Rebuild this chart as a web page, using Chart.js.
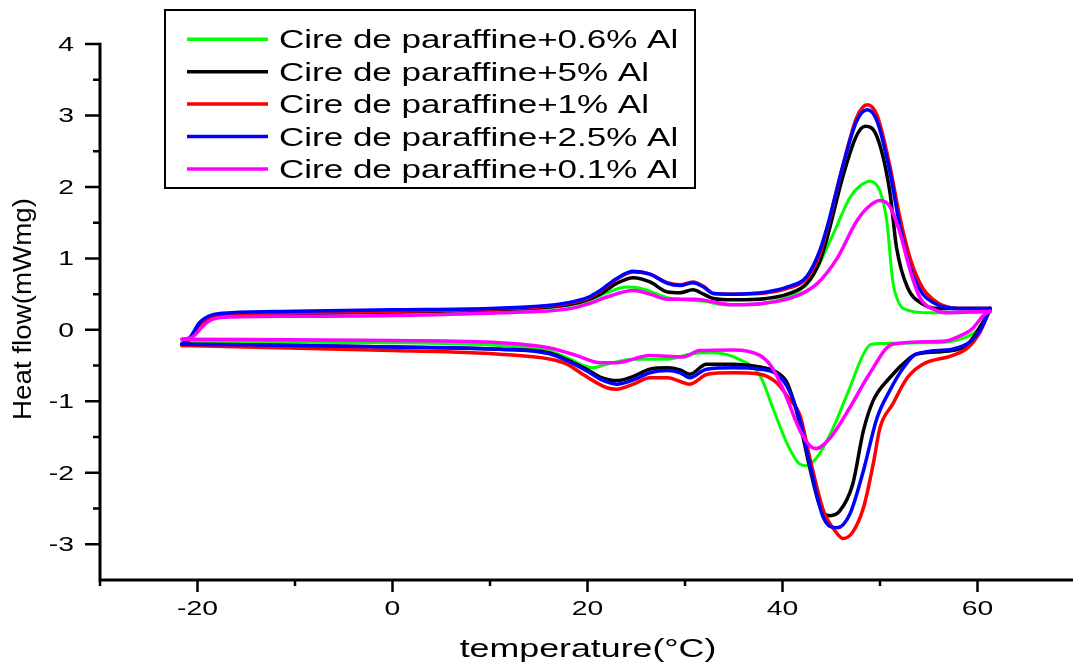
<!DOCTYPE html>
<html>
<head>
<meta charset="utf-8">
<script src="https://cdn.jsdelivr.net/npm/chart.js@4.4.1/dist/chart.umd.min.js"></script>
<style>
  html, body { margin: 0; padding: 0; background: #fff; overflow: hidden; }
  canvas { display: block; }
</style>
</head>
<body>
<canvas id="dsc" width="1078" height="663"></canvas>
<script>
// Legend / series info
const seriesLabels = [
    'Cire de paraffine+0.6% Al',
    'Cire de paraffine+5% Al',
    'Cire de paraffine+1% Al',
    'Cire de paraffine+2.5% Al',
    'Cire de paraffine+0.1% Al'
];
const seriesColors = ['#00ff00', '#000000', '#ff0000', '#0000ff', '#ff00ff'];

// Axis ticks
const xTicks = [-20, 0, 20, 40, 60];
const xMinorTicks = [-30, -10, 10, 30, 50, 70];
const yTicks = [-3, -2, -1, 0, 1, 2, 3, 4];
const yMinorTicks = [-2.5, -1.5, -0.5, 0.5, 1.5, 2.5, 3.5];

// [temperature, heat flow]; heating branch (upper) and cooling branch (lower)
const greenHeat = [[-21.6,-0.17],[-20.8,-0.1],[-19.8,0.08],[-18.5,0.18],[-16.5,0.21],[-10,0.23],[0,0.25],[10,0.27],[15,0.3],[18,0.34],[20,0.4],[22,0.52],[24,0.6],[25.5,0.58],[28.2,0.45],[30,0.42],[32,0.4],[33.5,0.36],[35,0.35],[38.4,0.38],[40.5,0.46],[42.8,0.69],[45.2,1.34],[46.9,1.85],[48,2.02],[49,2.08],[50,1.94],[50.7,1.52],[51.3,0.69],[52,0.36],[53,0.27],[55,0.24],[61.3,0.25]];
const greenCool = [[-21.6,-0.17],[0,-0.18],[11,-0.22],[16,-0.29],[17.9,-0.39],[20.5,-0.53],[22,-0.48],[24.7,-0.41],[28.2,-0.41],[30.5,-0.34],[33,-0.32],[35.5,-0.41],[37.7,-0.64],[39,-1.09],[40.5,-1.6],[41.8,-1.88],[42.5,-1.9],[43.5,-1.79],[44.9,-1.46],[46.9,-0.81],[48.3,-0.34],[49.1,-0.2],[56,-0.18],[58.5,-0.12],[60,0.0],[61.3,0.25]];

const blackHeat = [[-21.6,-0.2],[-20.8,-0.13],[-19.8,0.07],[-18.5,0.18],[-16.5,0.21],[-10,0.23],[0,0.25],[10,0.28],[15,0.31],[18,0.35],[20,0.42],[21.3,0.5],[23,0.65],[24.7,0.73],[26.4,0.67],[28.2,0.53],[29.5,0.52],[30.8,0.56],[31.9,0.5],[32.9,0.44],[35,0.42],[38.4,0.44],[40.5,0.5],[42.5,0.65],[43.8,0.95],[44.6,1.3],[46.2,2.15],[47.6,2.72],[48.5,2.85],[49.7,2.7],[51,1.94],[51.7,1.15],[52.8,0.6],[54.4,0.36],[56,0.3],[61.3,0.3]];
const blackCool = [[-21.6,-0.2],[-15,-0.21],[0,-0.24],[11,-0.27],[16,-0.32],[17.9,-0.42],[20,-0.56],[21.3,-0.66],[23,-0.71],[24.7,-0.65],[26.4,-0.55],[28.2,-0.53],[29.5,-0.56],[30.5,-0.62],[32.2,-0.48],[35,-0.48],[37.7,-0.52],[39.5,-0.6],[40.5,-0.75],[41.8,-1.32],[42.8,-1.93],[43.9,-2.49],[44.9,-2.6],[45.9,-2.53],[47.2,-2.16],[48.3,-1.41],[49.3,-0.99],[51,-0.67],[53.1,-0.39],[53.7,-0.34],[57.4,-0.29],[59,-0.2],[60.3,0.05],[61.3,0.3]];

const redHeat = [[-21.6,-0.22],[-20.8,-0.13],[-19.8,0.08],[-18.5,0.19],[-16.5,0.22],[-10,0.24],[0,0.26],[10,0.29],[15,0.32],[18,0.37],[20,0.44],[21.3,0.54],[23,0.71],[24.7,0.81],[26.4,0.78],[28.2,0.66],[29.5,0.63],[30.8,0.67],[31.9,0.61],[32.9,0.51],[35,0.5],[38.4,0.52],[40.5,0.58],[42.5,0.72],[43.8,1.05],[44.6,1.42],[46.2,2.3],[47.6,2.97],[48.7,3.15],[49.7,3.0],[51,2.3],[52,1.6],[53.1,1.0],[54.4,0.58],[55.5,0.42],[56.5,0.34],[58,0.3],[61.3,0.3]];
const redCool = [[-21.6,-0.22],[-15,-0.24],[0,-0.29],[11,-0.34],[16.2,-0.41],[17.9,-0.48],[19.5,-0.62],[22,-0.81],[23,-0.83],[24.7,-0.76],[26.4,-0.67],[28.2,-0.67],[30.5,-0.76],[32.3,-0.62],[34.9,-0.6],[37.7,-0.62],[39.4,-0.74],[40.6,-0.95],[41.8,-1.2],[42.8,-1.79],[44.2,-2.53],[45.6,-2.85],[46.2,-2.92],[47.2,-2.83],[48.3,-2.49],[49.3,-1.88],[50,-1.37],[51.3,-1.04],[52.8,-0.67],[54.4,-0.48],[57.4,-0.36],[59,-0.25],[60.3,-0.02],[61.3,0.3]];

const blueHeat = [[-21.6,-0.2],[-20.8,-0.12],[-19.8,0.1],[-18.5,0.21],[-16.5,0.24],[-10,0.26],[0,0.28],[10,0.3],[15,0.33],[18,0.38],[20,0.45],[21.3,0.55],[23,0.72],[24.7,0.82],[26.4,0.78],[28.2,0.65],[29.5,0.62],[30.8,0.66],[31.9,0.6],[32.9,0.51],[35,0.5],[38.4,0.53],[40.5,0.6],[42.5,0.75],[43.8,1.1],[44.6,1.45],[46.2,2.3],[47.6,2.92],[48.7,3.08],[49.7,2.92],[51,2.22],[52,1.48],[53.1,0.87],[54.4,0.5],[55.5,0.38],[56.5,0.32],[58,0.3],[61.3,0.3]];
const blueCool = [[-21.6,-0.2],[-15,-0.21],[0,-0.24],[11,-0.27],[16,-0.33],[17.9,-0.43],[20,-0.58],[21.3,-0.69],[23,-0.76],[24.7,-0.7],[26.4,-0.6],[28.2,-0.57],[29.5,-0.6],[30.5,-0.67],[32.2,-0.55],[35,-0.53],[37.7,-0.55],[39.4,-0.62],[40.5,-0.8],[41.8,-1.27],[42.8,-1.88],[44.2,-2.63],[45.6,-2.77],[46.9,-2.58],[48.3,-1.97],[49.7,-1.23],[51,-0.85],[52.4,-0.53],[53.7,-0.34],[57.4,-0.27],[59.4,-0.15],[60.5,0.05],[61.3,0.3]];

const magentaHeat = [[-21.6,-0.13],[-20.5,-0.1],[-19.4,0.06],[-18.4,0.15],[-16.4,0.18],[-10,0.19],[0,0.2],[11,0.24],[17.9,0.29],[20,0.36],[22,0.46],[24.7,0.55],[26.4,0.5],[28.2,0.43],[31,0.43],[34.9,0.35],[38,0.37],[41,0.45],[43.5,0.64],[45.6,1.0],[47.6,1.52],[48.8,1.72],[50,1.81],[51,1.73],[52,1.38],[53.1,0.83],[54.1,0.45],[55.8,0.27],[57,0.24],[61.3,0.26]];
const magentaCool = [[-21.6,-0.13],[0,-0.15],[11,-0.18],[16,-0.25],[18.9,-0.36],[21.3,-0.46],[23,-0.46],[26.4,-0.36],[29.8,-0.38],[31.5,-0.29],[35,-0.28],[37.7,-0.36],[38.8,-0.5],[40,-0.81],[41.8,-1.41],[42.8,-1.62],[43.5,-1.66],[44.9,-1.51],[46.9,-1.09],[48.9,-0.62],[51.3,-0.2],[56.5,-0.16],[58.6,-0.06],[59.5,0.02],[60.6,0.2],[61.3,0.26]];

const seriesBranches = [
    [greenHeat, greenCool],
    [blackHeat, blackCool],
    [redHeat, redCool],
    [blueHeat, blueCool],
    [magentaHeat, magentaCool]
];
const seriesWidths = [3, 3.5, 3.5, 3.5, 3.5];
const drawOrder = [4, 3, 2, 1, 0]; // magenta on top, green underneath

const fontFamily = '"Liberation Sans", Arial, Helvetica, sans-serif';

// Origin-style text is stretched horizontally in the figure
function stretchedText(ctx, text, x, y, size, sx, align) {
    ctx.save();
    ctx.font = size + 'px ' + fontFamily;
    ctx.textAlign = align;
    ctx.textBaseline = 'alphabetic';
    ctx.translate(x, y);
    ctx.scale(sx, 1);
    ctx.fillText(text, 0, 0);
    ctx.restore();
}

const originAxes = {
    id: 'originAxes',
    afterDraw(chart) {
        const { ctx, chartArea: a, scales: { x, y } } = chart;
        ctx.save();
        ctx.strokeStyle = '#000';
        ctx.fillStyle = '#000';

        // axis lines
        ctx.lineWidth = 3;
        ctx.beginPath();
        ctx.moveTo(a.left, a.top - 1.25);
        ctx.lineTo(a.left, a.bottom);
        ctx.moveTo(a.left - 1.5, a.bottom);
        ctx.lineTo(a.right, a.bottom);
        ctx.stroke();

        // tick marks
        ctx.lineWidth = 2.5;
        ctx.beginPath();
        yTicks.forEach(v => {
            const py = y.getPixelForValue(v);
            ctx.moveTo(a.left - 15, py); ctx.lineTo(a.left, py);
        });
        yMinorTicks.forEach(v => {
            const py = y.getPixelForValue(v);
            ctx.moveTo(a.left - 7, py); ctx.lineTo(a.left, py);
        });
        xTicks.forEach(v => {
            const px = x.getPixelForValue(v);
            ctx.moveTo(px, a.bottom); ctx.lineTo(px, a.bottom + 12);
        });
        xMinorTicks.forEach(v => {
            const px = x.getPixelForValue(v);
            ctx.moveTo(px, a.bottom); ctx.lineTo(px, a.bottom + 6);
        });
        ctx.stroke();

        // tick labels
        yTicks.forEach(v => {
            stretchedText(ctx, String(v), a.left - 26, y.getPixelForValue(v) + 7, 21, 1.35, 'right');
        });
        xTicks.forEach(v => {
            stretchedText(ctx, String(v), x.getPixelForValue(v), a.bottom + 35, 21, 1.35, 'center');
        });

        // axis titles
        stretchedText(ctx, 'temperature(°C)', 588, 657, 25, 1.43, 'center');
        ctx.save();
        ctx.font = '25px ' + fontFamily;
        ctx.textAlign = 'center';
        ctx.textBaseline = 'alphabetic';
        ctx.translate(31, 309);
        ctx.rotate(-Math.PI / 2);
        ctx.scale(1.11, 1);
        ctx.fillText('Heat flow(mWmg)', 0, 0);
        ctx.restore();

        // legend box
        ctx.lineWidth = 2;
        ctx.strokeRect(165, 10, 530, 178);
        seriesLabels.forEach((label, i) => {
            const rowY = 39.3 + i * 32.4;
            ctx.strokeStyle = seriesColors[i];
            ctx.lineWidth = 3.5;
            ctx.beginPath();
            ctx.moveTo(187, rowY);
            ctx.lineTo(268, rowY);
            ctx.stroke();
            stretchedText(ctx, label, 279, rowY + 9, 25, 1.4, 'left');
        });
        ctx.restore();
    }
};

const datasets = [];
seriesBranches.forEach((branches, i) => {
    branches.forEach(branch => {
        datasets.push({
            label: seriesLabels[i],
            data: branch.map(([t, v]) => ({ x: t, y: v })),
            borderColor: seriesColors[i],
            backgroundColor: seriesColors[i],
            borderWidth: seriesWidths[i],
            borderJoinStyle: 'round',
            borderCapStyle: 'round',
            showLine: true,
            pointRadius: 0,
            fill: false,
            cubicInterpolationMode: 'monotone',
            order: drawOrder[i]
        });
    });
});

new Chart(document.getElementById('dsc').getContext('2d'), {
    type: 'scatter',
    data: { datasets: datasets },
    plugins: [originAxes],
    options: {
        responsive: false,
        animation: false,
        layout: { padding: { left: 100, top: 44, right: 3, bottom: 83 } },
        plugins: {
            legend: { display: false },
            tooltip: { enabled: false }
        },
        scales: {
            x: { type: 'linear', min: -30, max: 70, display: false },
            y: { type: 'linear', min: -3.5, max: 4, display: false }
        }
    }
});
</script>
</body>
</html>
